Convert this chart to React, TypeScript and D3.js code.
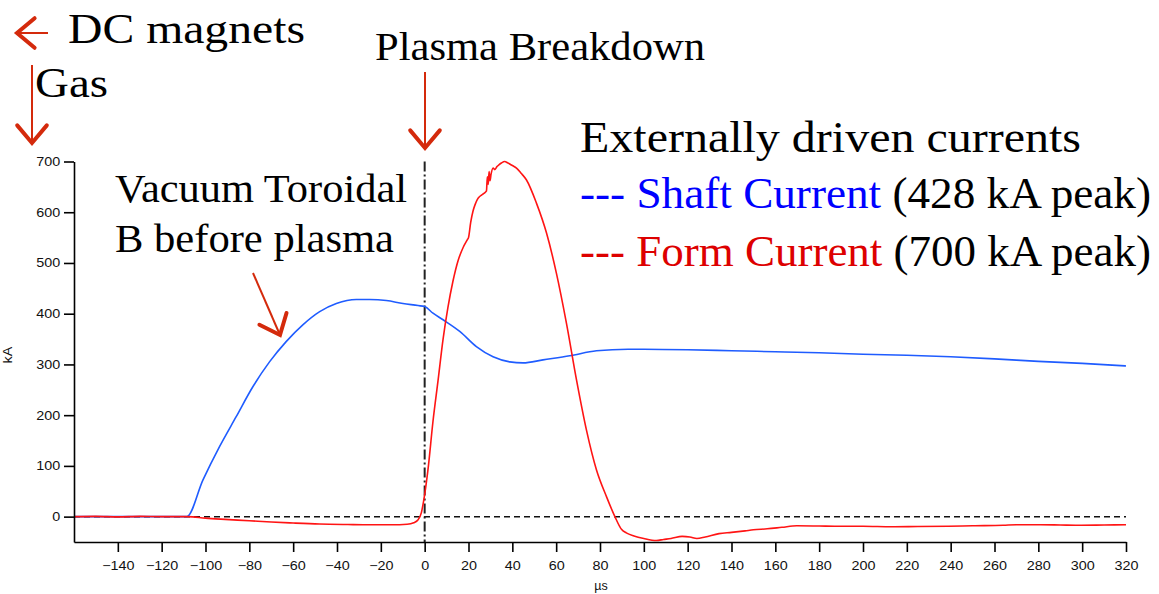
import React, { useEffect, useRef } from 'react';
import * as d3 from 'd3';

// Shaft current (kA) vs time (µs)
const shaftTime = [-160, -130, -108.5, -101.2, -93.6, -86, -78.4, -70.8, -63.2, -55.6, -47.9, -40.3, -31.2, -25.1, -17.5, -9.9, -3, 0, 3.8, 8.4, 16, 23.6, 31.2, 38.8, 44.9, 54, 66.2, 78.4, 92.8, 100, 120, 140, 160, 180, 200, 220, 240, 260, 280, 300, 320];
const shaftKA = [0, 0, 0, 72, 138, 197, 256, 305, 345, 378, 404, 420, 428, 428, 426, 420, 416, 414, 401, 388, 365, 335, 315, 305, 303, 309, 317, 327, 330, 330, 329, 327, 325, 323, 320, 318, 315, 311, 306, 302, 297];

// Form current (kA) vs time (µs)
const formTime = [-160, -150, -140, -130, -120, -108, -100, -93, -80, -70, -60, -48, -35, -25, -15, -8, -5, -3, -1.5, -0.5, 1.5, 3.8, 6.1, 8.4, 10.6, 12.9, 15.2, 17.5, 19.5, 20, 21, 22.1, 23, 24, 25.1, 26, 27, 27.8, 28.2, 28.6, 29, 29.4, 29.8, 30.3, 31.2, 32, 33, 34, 35, 36.5, 38, 40, 41.9, 44, 46.4, 51, 55.6, 60.1, 64.7, 69.3, 73.8, 78.4, 83, 86.8, 89.8, 92, 95.5, 100, 105.7, 109, 112.4, 117.5, 121, 124.2, 128, 134.3, 140, 146.2, 150, 156.3, 163, 169.8, 180, 188, 200, 213, 225, 239, 250, 264, 270, 281, 290, 298, 310, 320];
const formKA = [0, 0.5, -0.5, 0.5, 0, 0, -3, -5, -8, -10.5, -12.5, -14.5, -15.5, -16, -16, -15, -12, -6, 8, 30, 92, 188, 268, 350, 412, 464, 504, 530, 546, 550, 580, 603, 615, 625, 631, 634, 637, 640, 642, 670, 655, 680, 662, 675, 687, 684, 690, 694, 697, 700, 697, 692, 687, 677, 664, 618, 559, 480, 381, 269, 171, 92, 39, 0, -25, -32, -38, -43, -47, -45, -43, -39, -40, -43, -40, -33.5, -31, -28, -26, -24, -21, -18, -18.5, -19, -19, -20, -19.5, -19, -18, -17, -16, -16, -16.5, -17, -16.5, -16];

const timeTicks = [-140, -120, -100, -80, -60, -40, -20, 0, 20, 40, 60, 80, 100, 120, 140, 160, 180, 200, 220, 240, 260, 280, 300, 320];
const currentTicks = [0, 100, 200, 300, 400, 500, 600, 700];

const W = 1159;
const H = 594;
const SERIF = '"Liberation Serif", "Times New Roman", serif';
const SANS = '"Liberation Sans", Arial, sans-serif';
const ARROW_RED = '#d42a0c';

function Arrow({ x1, y1, x2, y2 }: { x1: number; y1: number; x2: number; y2: number }) {
  const ang = Math.atan2(y2 - y1, x2 - x1);
  const len = 23;
  const spread = (40 * Math.PI) / 180;
  const ax = x2 - len * Math.cos(ang - spread);
  const ay = y2 - len * Math.sin(ang - spread);
  const bx = x2 - len * Math.cos(ang + spread);
  const by = y2 - len * Math.sin(ang + spread);
  return (
    <g stroke={ARROW_RED} fill="none">
      <line x1={x1} y1={y1} x2={x2} y2={y2} strokeWidth={2} />
      <polyline points={`${ax},${ay} ${x2},${y2} ${bx},${by}`} strokeWidth={4} strokeLinejoin="miter" strokeLinecap="round" />
    </g>
  );
}

export default function App() {
  const xAxisRef = useRef<SVGGElement>(null);
  const yAxisRef = useRef<SVGGElement>(null);

  const x = d3.scaleLinear().domain([-160, 320]).range([74, 1126]);
  const y = d3.scaleLinear().domain([-50, 700]).range([542, 161.5]);

  const line = d3
    .line<[number, number]>()
    .x((d) => x(d[0]))
    .y((d) => y(d[1]))
    .curve(d3.curveMonotoneX);

  const shaftPts = shaftTime.map((t, i) => [t, shaftKA[i]] as [number, number]);
  const formPts = formTime.map((t, i) => [t, formKA[i]] as [number, number]);

  useEffect(() => {
    const gx = d3.select(xAxisRef.current as SVGGElement);
    gx.call(d3.axisBottom(x).tickValues(timeTicks).tickSize(10).tickPadding(9).tickSizeOuter(0));
    const gy = d3.select(yAxisRef.current as SVGGElement);
    gy.call(d3.axisLeft(y).tickValues(currentTicks).tickSize(10).tickPadding(2).tickSizeOuter(0));
    [gx, gy].forEach((g) => {
      g.attr('font-family', SANS).attr('font-size', 12.5);
      g.selectAll('path.domain').attr('stroke', '#000').attr('stroke-width', 1.6);
      g.selectAll('.tick line').attr('stroke', '#000').attr('stroke-width', 1.6);
      g.selectAll('.tick text').attr('fill', '#111').attr('transform', 'scale(1.15,1)');
    });
  });

  return (
    <svg width={W} height={H} style={{ position: 'absolute', left: 0, top: 0, background: '#fff' }}>
      <rect x={0} y={0} width={W} height={H} fill="#fff" />

      {/* reference lines */}
      <line x1={x(-160)} x2={x(320)} y1={y(0)} y2={y(0)} stroke="#111" strokeWidth={1.5} strokeDasharray="6,4" />
      <line x1={x(0)} x2={x(0)} y1={y(700)} y2={y(-50)} stroke="#222" strokeWidth={2} strokeDasharray="10,3,2,3" />

      {/* traces */}
      <path d={line(shaftPts) ?? ''} fill="none" stroke="#1f5cff" strokeWidth={1.6} />
      <path d={line(formPts) ?? ''} fill="none" stroke="#ff1414" strokeWidth={1.6} />

      {/* axes */}
      <g ref={xAxisRef} transform={`translate(0,${y(-50)})`} />
      <g ref={yAxisRef} transform={`translate(${x(-160)},0)`} />
      <text transform={`translate(12,355) rotate(-90) scale(1.15,1)`} textAnchor="middle" fontFamily={SANS} fontSize={12.5} fill="#111">kA</text>
      <text x={601} y={590} textAnchor="middle" fontFamily={SANS} fontSize={12.5} fill="#111">µs</text>

      {/* annotations */}
      <Arrow x1={48} y1={33} x2={17} y2={33} />
      <text x={68} y={43} fontFamily={SERIF} fontSize={42} textLength={237} lengthAdjust="spacingAndGlyphs">DC magnets</text>
      <Arrow x1={32} y1={65} x2={32} y2={143} />
      <text x={35} y={97} fontFamily={SERIF} fontSize={42} textLength={73} lengthAdjust="spacingAndGlyphs">Gas</text>

      <Arrow x1={425} y1={72} x2={425} y2={148} />
      <text x={375} y={60} fontFamily={SERIF} fontSize={40} textLength={330} lengthAdjust="spacingAndGlyphs">Plasma Breakdown</text>

      <text x={115} y={201.5} fontFamily={SERIF} fontSize={40} textLength={292} lengthAdjust="spacingAndGlyphs">Vacuum Toroidal</text>
      <text x={115} y={251.5} fontFamily={SERIF} fontSize={40} textLength={279} lengthAdjust="spacingAndGlyphs">B before plasma</text>
      <Arrow x1={253} y1={273} x2={280} y2={335} />

      {/* legend */}
      <text x={580} y={152} fontFamily={SERIF} fontSize={45} textLength={501} lengthAdjust="spacingAndGlyphs">Externally driven currents</text>
      <text x={580} y={208} fontFamily={SERIF} fontSize={44} textLength={571} lengthAdjust="spacingAndGlyphs">
        <tspan fill="#0000ff">--- Shaft Current</tspan>
        <tspan fill="#000"> (428 kA peak)</tspan>
      </text>
      <text x={580} y={266} fontFamily={SERIF} fontSize={44} textLength={571} lengthAdjust="spacingAndGlyphs">
        <tspan fill="#dd0000">--- Form Current</tspan>
        <tspan fill="#000"> (700 kA peak)</tspan>
      </text>
    </svg>
  );
}
